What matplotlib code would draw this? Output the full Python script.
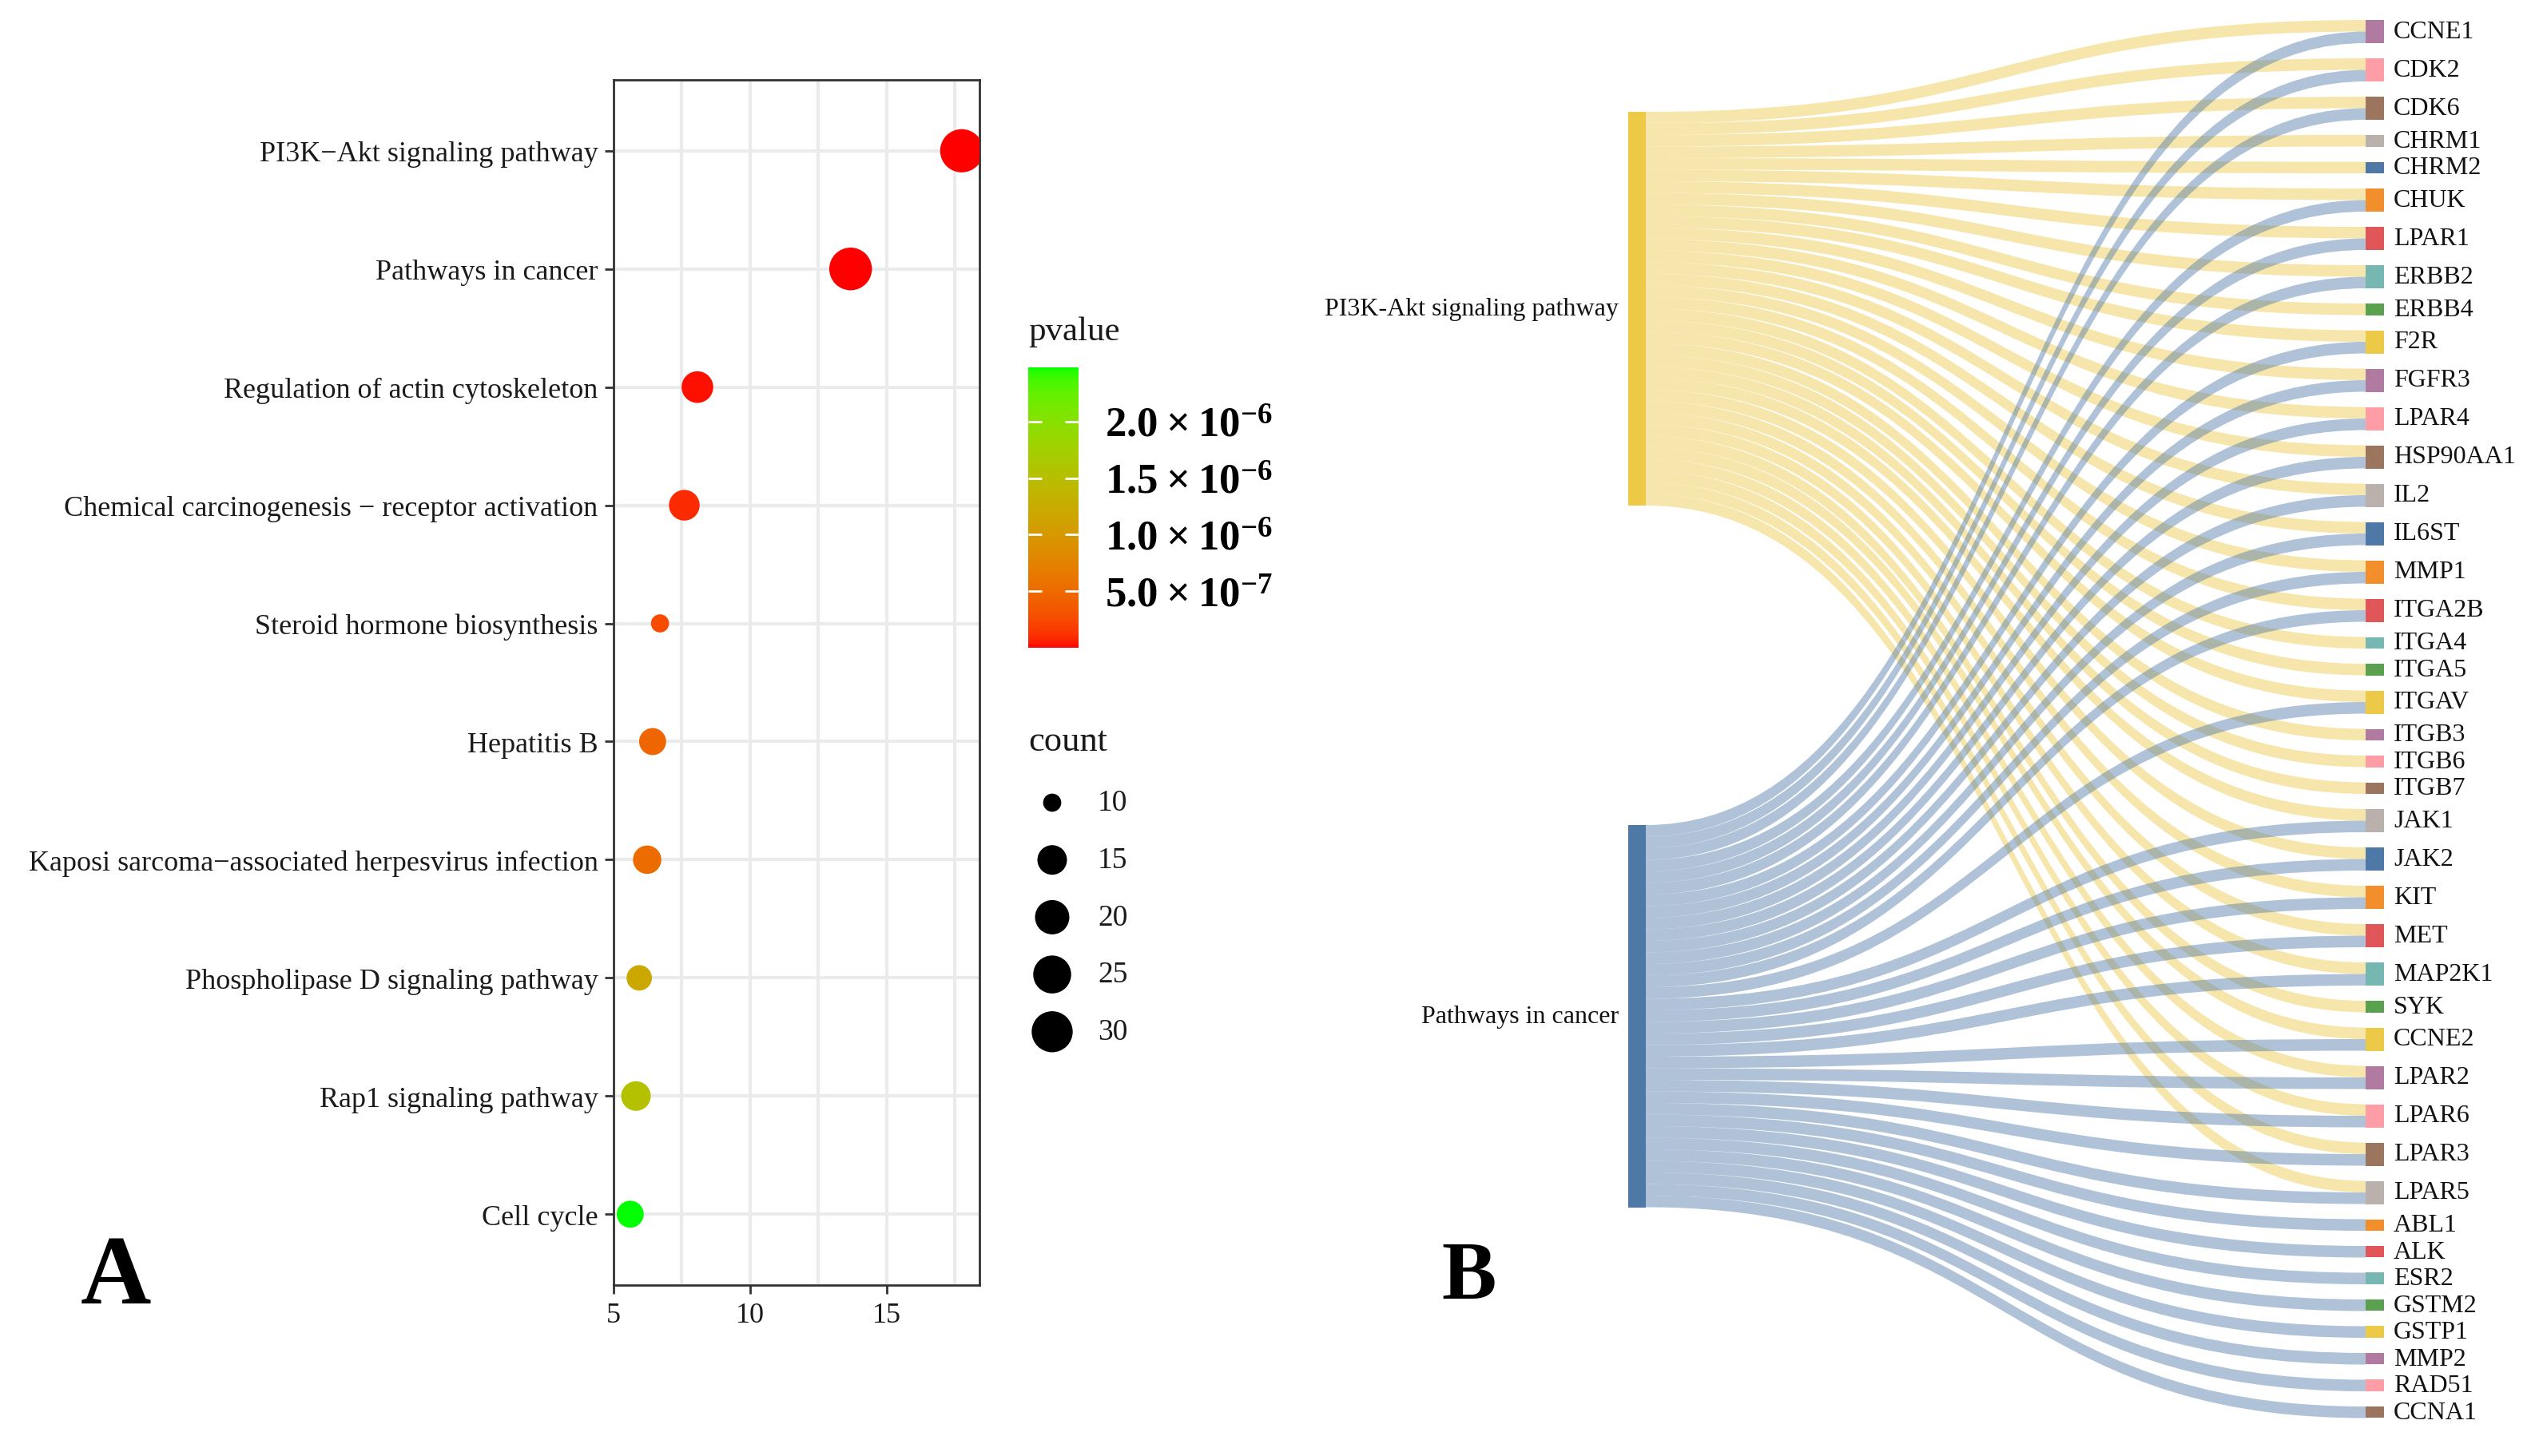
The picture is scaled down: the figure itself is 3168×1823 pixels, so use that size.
import numpy as np
import matplotlib
matplotlib.use("Agg")
import matplotlib.pyplot as plt
from matplotlib.colors import ListedColormap, Normalize
from matplotlib.cm import ScalarMappable
from matplotlib.path import Path
from matplotlib.patches import PathPatch, Rectangle

plt.rcParams['font.family'] = ['Liberation Serif', 'DejaVu Serif']
plt.rcParams['mathtext.fontset'] = 'custom'
plt.rcParams['mathtext.rm'] = 'Liberation Serif'
plt.rcParams['mathtext.bf'] = 'Liberation Serif:bold'

# ---------------- panel A: KEGG dot plot (top to bottom) ----------------
pathways = ["PI3K\u2212Akt signaling pathway",
            "Pathways in cancer",
            "Regulation of actin cytoskeleton",
            "Chemical carcinogenesis \u2212 receptor activation",
            "Steroid hormone biosynthesis",
            "Hepatitis B",
            "Kaposi sarcoma\u2212associated herpesvirus infection",
            "Phospholipase D signaling pathway",
            "Rap1 signaling pathway",
            "Cell cycle"]
rich = [17.75, 13.68, 8.07, 7.59, 6.70, 6.43, 6.23, 5.94, 5.82, 5.61]
counts = [34, 33, 17, 16, 10, 13, 14, 12, 15, 13]
pvalues = [3.2e-12, 1.5e-10, 2.1e-8, 9.0e-8, 2.6e-7, 4.6e-7, 5.2e-7,
           1.2e-6, 1.55e-6, 2.48e-6]
xticks = [5, 10, 15]
count_breaks = [10, 15, 20, 25, 30]
pvalue_ticks = [5e-7, 1e-6, 1.5e-6, 2e-6]
pvalue_ticklabels = [r"$\mathbf{5.0\times10^{-7}}$", r"$\mathbf{1.0\times10^{-6}}$",
                     r"$\mathbf{1.5\times10^{-6}}$", r"$\mathbf{2.0\times10^{-6}}$"]

# ---------------- panel B: sankey pathway -> gene ----------------
sources = ["PI3K-Akt signaling pathway", "Pathways in cancer"]
genes = ["CCNE1", "CDK2", "CDK6", "CHRM1", "CHRM2", "CHUK", "LPAR1", "ERBB2",
         "ERBB4", "F2R", "FGFR3", "LPAR4", "HSP90AA1", "IL2", "IL6ST", "MMP1",
         "ITGA2B", "ITGA4", "ITGA5", "ITGAV", "ITGB3", "ITGB6", "ITGB7", "JAK1",
         "JAK2", "KIT", "MET", "MAP2K1", "SYK", "CCNE2", "LPAR2", "LPAR6",
         "LPAR3", "LPAR5", "ABL1", "ALK", "ESR2", "GSTM2", "GSTP1", "MMP2",
         "RAD51", "CCNA1"]
pi3k_only = ["CHRM1", "CHRM2", "ERBB4", "ITGA4", "ITGA5", "ITGB3", "ITGB6",
             "ITGB7", "SYK"]
cancer_only = ["ABL1", "ALK", "ESR2", "GSTM2", "GSTP1", "MMP2", "RAD51", "CCNA1"]

tableau = ["#4e79a7", "#f28e2b", "#e15759", "#76b7b2", "#59a14f",
           "#edc948", "#b07aa1", "#ff9da7", "#9c755f", "#bab0ac"]
source_colors = ["#edc948", "#4e79a7"]


# ggplot-like red -> green gradient interpolated in Lab space
M = np.array([[0.4124, 0.3576, 0.1805],
              [0.2126, 0.7152, 0.0722],
              [0.0193, 0.1192, 0.9505]])
WHITE = np.array([0.95047, 1.0, 1.08883])


def srgb_to_lab(rgb):
    rgb = np.asarray(rgb, float)
    lin = np.where(rgb <= 0.04045, rgb / 12.92, ((rgb + 0.055) / 1.055) ** 2.4)
    xyz = lin @ M.T / WHITE
    f = np.where(xyz > 216 / 24389, np.cbrt(xyz), (24389 / 27 * xyz + 16) / 116)
    return np.array([116 * f[1] - 16, 500 * (f[0] - f[1]), 200 * (f[1] - f[2])])


def lab_to_srgb(lab):
    fy = (lab[:, 0] + 16) / 116
    f = np.stack([fy + lab[:, 1] / 500, fy, fy - lab[:, 2] / 200], -1)
    xyz = np.where(f ** 3 > 216 / 24389, f ** 3, (116 * f - 16) / (24389 / 27)) * WHITE
    lin = np.clip(xyz @ np.linalg.inv(M).T, 0, 1)
    rgb = np.where(lin <= 0.0031308, 12.92 * lin, 1.055 * lin ** (1 / 2.4) - 0.055)
    return np.clip(rgb, 0, 1)


t = np.linspace(0, 1, 256)[:, None]
lo, hi = srgb_to_lab([1, 0, 0]), srgb_to_lab([0, 1, 0])
cmap = ListedColormap(lab_to_srgb(lo + t * (hi - lo)))
norm = Normalize(vmin=min(pvalues), vmax=max(pvalues))

DPI = 200
cmin, cmax = min(counts), max(counts)


def dot_size(c):
    # diameter in pixels, area-style scaling like scale_size
    d = 22.7 + 31.4 * np.sqrt((np.asarray(c, float) - cmin) / (cmax - cmin))
    return (d * 72 / DPI) ** 2


fig = plt.figure(figsize=(15.84, 9.12), dpi=DPI)
W, H = 3168, 1824

# ---- sankey canvas (pixel units) ----
canvas = fig.add_axes([0, 0, 1, 1])
canvas.set_xlim(0, W)
canvas.set_ylim(H, 0)
canvas.axis("off")

unit = 14.5
right_gap = 19.0
right_top = 26.0
left_top = 141.0
left_gap = 400.0
xl0, xl1 = 2038, 2060
xr0, xr1 = 2961, 2984

links = []
for g in genes:
    if g not in cancer_only:
        links.append((0, g))
    if g not in pi3k_only:
        links.append((1, g))

# right node stacking
gene_val = {g: sum(1 for s, gg in links if gg == g) for g in genes}
gene_y = {}
y = right_top
for g in genes:
    gene_y[g] = y
    y += gene_val[g] * unit + right_gap

# left node stacking
src_val = [sum(1 for s, g in links if s == k) for k in range(len(sources))]
src_y = []
y = left_top
for v in src_val:
    src_y.append(y)
    y += v * unit + left_gap

src_cursor = list(src_y)
gene_cursor = dict(gene_y)
xm = (xl1 + xr0) / 2
polys = []
for s, g in links:
    ys0 = src_cursor[s]
    ys1 = ys0 + unit
    src_cursor[s] = ys1
    yt0 = gene_cursor[g]
    yt1 = yt0 + unit
    gene_cursor[g] = yt1
    verts = [(xl1, ys0), (xm, ys0), (xm, yt0), (xr0, yt0),
             (xr0, yt1), (xm, yt1), (xm, ys1), (xl1, ys1), (xl1, ys0)]
    codes = [Path.MOVETO, Path.CURVE4, Path.CURVE4, Path.CURVE4,
             Path.LINETO, Path.CURVE4, Path.CURVE4, Path.CURVE4, Path.CLOSEPOLY]
    polys.append((s, Path(verts, codes)))

for k in range(len(sources)):
    for s, p in polys:
        if s == k:
            canvas.add_patch(PathPatch(p, facecolor=source_colors[s], edgecolor="none",
                                       alpha=0.45, zorder=1))

for k, name in enumerate(sources):
    h = src_val[k] * unit
    canvas.add_patch(Rectangle((xl0, src_y[k]), xl1 - xl0, h,
                               facecolor=source_colors[k], edgecolor="none", zorder=3))
    canvas.text(xl0 - 12, src_y[k] + h / 2, name, ha="right", va="center",
                fontsize=11.5, color="#111111")

for i, g in enumerate(genes):
    ci = (6 + i) % 10 if i < 34 else (i - 33) % 10
    h = gene_val[g] * unit
    canvas.add_patch(Rectangle((xr0, gene_y[g]), xr1 - xr0, h,
                               facecolor=tableau[ci], edgecolor="none", zorder=3))
    canvas.text(xr1 + 12, gene_y[g] + h / 2, g, ha="left", va="center",
                fontsize=11.5, color="#111111")

# ---- panel A dot plot ----
ax = fig.add_axes([768 / W, 1 - 1610 / H, (1226 - 768) / W, (1610 - 101) / H])
ypos = np.arange(len(pathways))[::-1] + 1
ax.scatter(rich, ypos, s=dot_size(counts), c=pvalues, cmap=cmap, norm=norm,
           edgecolors="none", zorder=3)
ax.set_xlim(5.0, 18.4)
ax.set_ylim(0.4, len(pathways) + 0.6)
ax.set_xticks(xticks)
ax.set_xticks([7.5, 12.5, 17.5], minor=True)
ax.set_yticks(ypos)
ax.set_yticklabels(pathways, fontsize=13, color="#1a1a1a")
ax.tick_params(axis="x", which="major", labelsize=13, labelcolor="#1a1a1a",
               length=4, width=1.0, color="#333333")
ax.tick_params(axis="x", which="minor", length=0)
ax.tick_params(axis="y", length=4, width=1.0, color="#333333", pad=3)
ax.grid(True, which="both", color="#ebebeb", linewidth=1.5, zorder=0)
ax.set_axisbelow(True)
for sp in ax.spines.values():
    sp.set_color("#333333")
    sp.set_linewidth(1.0)

# pvalue colorbar
cax = fig.add_axes([1287 / W, 1 - 812 / H, 63 / W, 351 / H])
cb = fig.colorbar(ScalarMappable(norm=norm, cmap=cmap), cax=cax)
cb.outline.set_visible(False)
cb.set_ticks(pvalue_ticks)
cb.set_ticklabels(pvalue_ticklabels)
cax.tick_params(direction="in", color="white", length=6, width=1.0,
                left=True, right=True, labelsize=19, pad=12)
fig.text(1287 / W, 1 - 416 / H, "pvalue", fontsize=15.5, va="center", ha="left",
         color="#1a1a1a")

# count legend
fig.text(1287 / W, 1 - 929 / H, "count", fontsize=16, va="center", ha="left",
         color="#1a1a1a")
lax = fig.add_axes([1260 / W, 1 - 1330 / H, 200 / W, 360 / H])
lax.set_xlim(1260, 1460)
lax.set_ylim(1330, 970)
lax.axis("off")
ly = 1006 + 71.7 * np.arange(len(count_breaks))
lax.scatter([1317] * len(count_breaks), ly, s=dot_size(count_breaks), color="black",
            edgecolors="none", clip_on=False)
for yy, b in zip(ly, count_breaks):
    lax.text(1374, yy, str(b), fontsize=13.5, va="center", ha="left", color="#1a1a1a")

# panel letters
fig.text(101 / W, 1 - 1632 / H, "A", fontsize=44, fontweight="bold", ha="left",
         va="baseline")
fig.text(1804 / W, 1 - 1626 / H, "B", fontsize=37, fontweight="bold", ha="left",
         va="baseline")

fig.savefig("out.png", dpi=DPI, facecolor="white")
